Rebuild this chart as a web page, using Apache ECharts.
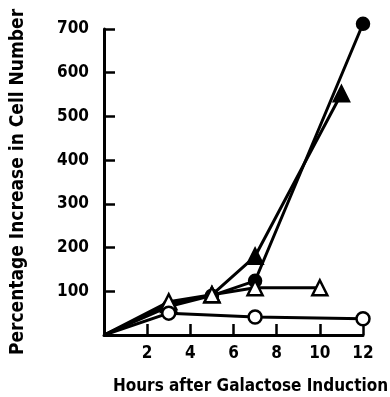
<!DOCTYPE html>
<html lang="en">
<head>
    <meta charset="UTF-8">
    <title>Percentage Increase in Cell Number</title>
    <style>
        body { margin: 0; background: #fff; }
        #chart { width: 390px; height: 397px; }
    </style>
    <script src="https://cdn.jsdelivr.net/npm/echarts/dist/echarts.min.js"></script>
</head>
<body>
<div id="chart"></div>
<script>
    // values: [hours, % increase]
    var filledCircle = [[0, 0], [3, 65], [5, 90], [7, 124], [12, 712]];
    var filledTriangle = [[0, 0], [3, 70], [5, 92], [7, 180], [11, 552]];
    var openTriangle = [[0, 0], [3, 76], [5, 92], [7, 108], [10, 108]];
    var openCircle = [[0, 0], [3, 50], [7, 41], [12, 37]];

    var font = "'Liberation Sans Narrow', 'DejaVu Sans Condensed', sans-serif";
    var chart = echarts.init(document.getElementById('chart'));

    function line(data, symbol, size, filled) {
        return {
            type: 'line',
            // the origin is only where the lines start, no marker there
            data: data.map(function (p) {
                return p[0] === 0 ? { value: p, symbol: 'none' } : p;
            }),
            symbol: symbol,
            symbolSize: size,
            showAllSymbol: true,
            clip: false,
            lineStyle: { color: '#000', width: 3 },
            itemStyle: { color: filled ? '#000' : '#fff', borderColor: '#000', borderWidth: 2.5 },
            animation: false
        };
    }

    chart.setOption({
        grid: { left: 104, right: 27, top: 29, bottom: 62, outerBoundsMode: 'none' },
        xAxis: {
            type: 'value', min: 0, max: 12, interval: 2,
            name: 'Hours after Galactose Induction',
            nameLocation: 'middle', nameGap: 43,
            nameTextStyle: { fontFamily: font, fontWeight: 'bold', fontSize: 17, color: '#000', padding: [0, 0, 0, 34] },
            axisLine: { lineStyle: { color: '#000', width: 3 } },
            axisTick: { inside: true, length: 11, lineStyle: { color: '#000', width: 2.5 } },
            axisLabel: { showMinLabel: false, fontFamily: font, fontWeight: 'bold', fontSize: 17, color: '#000', margin: 10 },
            splitLine: { show: false }
        },
        yAxis: {
            type: 'value', min: 0, max: 700, interval: 100,
            name: 'Percentage Increase in Cell Number',
            nameLocation: 'middle', nameGap: 76, nameRotate: 90,
            nameTextStyle: { fontFamily: font, fontWeight: 'bold', fontSize: 19, color: '#000' },
            axisLine: { show: true, lineStyle: { color: '#000', width: 3 } },
            axisTick: { show: true, inside: true, length: 11, lineStyle: { color: '#000', width: 2.5 } },
            axisLabel: { showMinLabel: false, fontFamily: font, fontWeight: 'bold', fontSize: 17, color: '#000', margin: 15 },
            splitLine: { show: false }
        },
        series: [
            line(filledCircle, 'circle', 12, true),
            line(filledTriangle, 'triangle', 15, true),
            line(openTriangle, 'triangle', 15, false),
            line(openCircle, 'circle', 13, false)
        ]
    });
</script>
</body>
</html>
